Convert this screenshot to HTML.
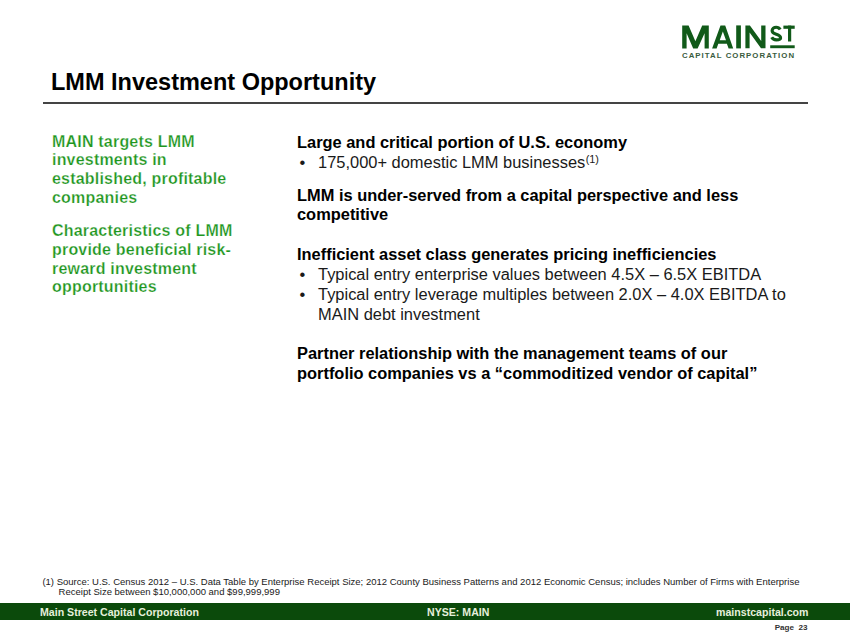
<!DOCTYPE html>
<html><head><meta charset="utf-8">
<style>
html,body{margin:0;padding:0;background:#fff;}
body{width:850px;height:638px;position:relative;overflow:hidden;font-family:"Liberation Sans",sans-serif;}
.l{position:absolute;white-space:nowrap;line-height:1;}
.t{font-size:23.5px;font-weight:bold;color:#000;}
.g{font-size:16px;letter-spacing:0.2px;font-weight:bold;color:#1e961e;left:52px;-webkit-text-stroke:0.25px #fff;}
.h{font-size:16.42px;font-weight:bold;color:#000;left:297px;}
.r{font-size:16.45px;color:#1a1a1a;left:318px;}
.d{font-size:16.45px;color:#1a1a1a;left:299.5px;}
.fn{font-size:9.5px;color:#1a1a1a;}
.ft{font-size:10.6px;font-weight:bold;color:#e6f0dc;top:607px;}
sup{font-size:0.66em;line-height:0;vertical-align:0;position:relative;top:-0.47em;margin-left:0.4px;}
</style></head><body>

<!-- logo -->
<svg style="position:absolute;left:0;top:0" width="850" height="70" viewBox="0 0 850 70">
 <g fill="#115a19">
  <polygon points="682.2,25.4 688.6,25.4 695.4,41.2 702.2,25.4 708.8,25.4 708.8,48.4 704.6,48.4 704.6,33.2 697.6,48.4 693.2,48.4 686.6,33.2 686.6,48.4 682.2,48.4"/>
  <path fill-rule="evenodd" d="M712.1 48.4 L720.5 25.5 L725.2 25.5 L733.2 48.4 L728.6 48.4 L726.9 43.8 L718.3 43.8 L716.6 48.4 Z M719.7 40.2 L722.85 31.5 L726 40.2 Z"/>
  <rect x="736.2" y="25.4" width="4.7" height="23"/>
  <polygon points="745.4,25.5 749.9,25.5 761.2,41 761.2,25.5 765.5,25.5 765.5,48.3 761,48.3 749.6,32.6 749.6,48.3 745.4,48.3"/>
  <rect x="783.4" y="25.6" width="11.3" height="3.2"/>
  <rect x="788" y="25.6" width="3.2" height="15.9"/>
  <rect x="770.2" y="45.3" width="24.5" height="2.9"/>
 </g>
 <path d="M780.2 29.6 C779.4 28.1 778 27.2 776.2 27.2 C773.9 27.2 772.1 28.6 772.1 30.7 C772.1 33.1 774.4 33.7 776.4 34.3 C778.6 35 780.6 35.8 780.6 38 C780.6 39.6 778.7 39.9 776.3 39.9 C774.2 39.9 772.6 39 771.7 37.3" fill="none" stroke="#115a19" stroke-width="3.1"/>
</svg>
<div class="l" id="cc" style="left:682px;top:52px;font-size:7.8px;font-weight:bold;color:#3a5c3e;letter-spacing:1.05px;">CAPITAL CORPORATION</div>

<!-- title -->
<div class="l t" style="left:51px;top:71px;">LMM Investment Opportunity</div>
<div style="position:absolute;left:43px;top:102px;width:765px;height:2px;background:#444;"></div>

<!-- left green -->
<div class="l g" style="top:134px;">MAIN targets LMM</div>
<div class="l g" style="top:152px;">investments in</div>
<div class="l g" style="top:171px;">established, profitable</div>
<div class="l g" style="top:190px;">companies</div>
<div class="l g" style="top:223px;">Characteristics of LMM</div>
<div class="l g" style="top:242px;">provide beneficial risk-</div>
<div class="l g" style="top:261px;">reward investment</div>
<div class="l g" style="top:279px;">opportunities</div>

<!-- right column -->
<div class="l h" style="top:134px;">Large and critical portion of U.S. economy</div>
<div class="l d" style="top:154px;">•</div>
<div class="l r" style="top:154px;">175,000+ domestic LMM businesses<sup>(1)</sup></div>
<div class="l h" style="top:187px;">LMM is under-served from a capital perspective and less</div>
<div class="l h" style="top:206px;">competitive</div>
<div class="l h" style="top:246px;">Inefficient asset class generates pricing inefficiencies</div>
<div class="l d" style="top:266px;">•</div>
<div class="l r" style="top:266px;">Typical entry enterprise values between 4.5X – 6.5X EBITDA</div>
<div class="l d" style="top:286px;">•</div>
<div class="l r" style="top:286px;">Typical entry leverage multiples between 2.0X – 4.0X EBITDA to</div>
<div class="l r" style="top:306px;">MAIN debt investment</div>
<div class="l h" style="top:345px;">Partner relationship with the management teams of our</div>
<div class="l h" style="top:365px;">portfolio companies vs a “commoditized vendor of capital”</div>

<!-- footnote -->
<div class="l fn" style="left:42.4px;top:577px;">(1) Source: U.S. Census 2012 – U.S. Data Table by Enterprise Receipt Size; 2012 County Business Patterns and 2012 Economic Census; includes Number of Firms with Enterprise</div>
<div class="l fn" style="left:58.6px;top:587px;">Receipt Size between $10,000,000 and $99,999,999</div>

<!-- footer -->
<div style="position:absolute;left:0;top:603px;width:850px;height:17px;background:#0b4a0b;"></div>
<div class="l ft" style="left:40px;">Main Street Capital Corporation</div>
<div class="l ft" style="left:427px;">NYSE: MAIN</div>
<div class="l ft" style="right:41.5px;">mainstcapital.com</div>
<div class="l" style="right:42.5px;top:624px;font-size:8.1px;font-weight:bold;color:#333;">Page&nbsp; 23</div>

</body></html>
